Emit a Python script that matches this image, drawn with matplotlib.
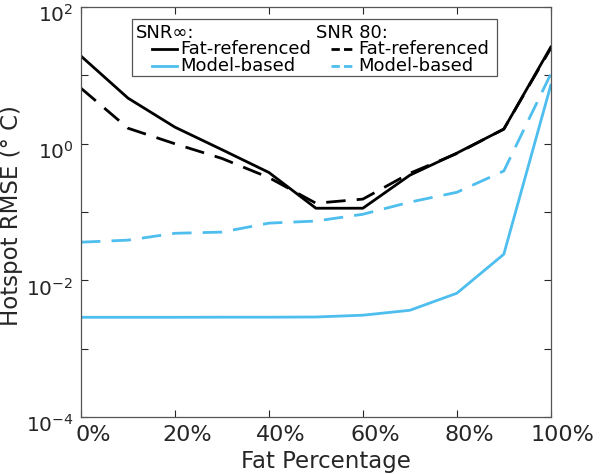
import numpy as np
import matplotlib.pyplot as plt
from matplotlib.patches import Rectangle
from matplotlib.lines import Line2D
from matplotlib.transforms import ScaledTranslation

# fat percentage (%)
fat_pct = [0, 10, 20, 30, 40, 50, 60, 70, 80, 90, 100]

# hotspot RMSE (deg C)
fatref_inf = [19.2, 4.66, 1.75, 0.82, 0.38, 0.114, 0.114, 0.347, 0.73, 1.64, 26.0]
model_inf = [0.00289, 0.00289, 0.00289, 0.0029, 0.0029, 0.00292, 0.0031, 0.00366, 0.0065, 0.0242, 7.2]
fatref_80 = [6.5, 1.69, 1.0, 0.61, 0.32, 0.135, 0.155, 0.37, 0.72, 1.64, 25.0]
model_80 = [0.0363, 0.0389, 0.049, 0.051, 0.069, 0.074, 0.093, 0.14, 0.195, 0.40, 10.5]

ytick_vals = [1e-4, 1e-3, 1e-2, 1e-1, 1e0, 1e1, 1e2]
ytick_labels = ['$10^{-4}$', '', '$10^{-2}$', '', '$10^{0}$', '', '$10^{2}$']
xtick_vals = [0, 20, 40, 60, 80, 100]
xtick_labels = ['0%', '20%', '40%', '60%', '80%', '100%']

blue = '#4DBEEE'
txtc = '#262626'
dash = (0, (7, 4))

fig = plt.figure(figsize=(6, 4.74), dpi=100)
ax = fig.add_axes([0.135, 0.120, 0.783, 0.865])

ax.plot(fat_pct, fatref_inf, color='black', lw=2)
ax.plot(fat_pct, model_inf, color=blue, lw=2)
ax.plot(fat_pct, fatref_80, color='black', lw=2, linestyle=dash)
ax.plot(fat_pct, model_80, color=blue, lw=2, linestyle=dash)

ax.set_yscale('log')
ax.set_ylim(1e-4, 1e2)
ax.set_xlim(0, 100)
ax.set_yticks(ytick_vals)
ax.set_yticklabels(ytick_labels)
ax.yaxis.set_minor_locator(plt.NullLocator())
ax.set_xticks(xtick_vals)
ax.set_xticklabels(xtick_labels)
ax.tick_params(direction='in', length=5, width=0.8, colors=txtc,
               top=True, right=True)
ax.tick_params(axis='x', labelsize=16, pad=6)
ax.tick_params(axis='y', labelsize=14.5, pad=5.5)
for sp in ax.spines.values():
    sp.set_color('#555555')
    sp.set_linewidth(0.9)

# labels in the reference sit a little off-centre from their ticks
xoff = ScaledTranslation(12 / 100, 0, fig.dpi_scale_trans)
for lab in ax.get_xticklabels():
    lab.set_transform(lab.get_transform() + xoff)
yoff = ScaledTranslation(0, -6 / 100, fig.dpi_scale_trans)
for lab in ax.get_yticklabels():
    lab.set_transform(lab.get_transform() + yoff)

ax.set_xlabel('Fat Percentage', fontsize=16.5, color=txtc)
ax.set_ylabel('Hotspot RMSE (° C)', fontsize=16.5, color=txtc)
ax.xaxis.set_label_coords(0.521, -0.08)
ax.yaxis.set_label_coords(-0.124, 0.491)

# hand-built legend with group headers
tr = ax.transAxes
ax.add_patch(Rectangle((0.109, 0.832), 0.776, 0.139, transform=tr,
                       facecolor='white', edgecolor='#555555', lw=0.9, zorder=5))
fs = 13
ax.text(0.117, 0.938, 'SNR∞:', transform=tr, fontsize=fs, va='center', zorder=6)
ax.text(0.500, 0.938, 'SNR 80:', transform=tr, fontsize=fs, va='center', zorder=6)
rows = [(0.898, 'black', 'Fat-referenced'), (0.857, blue, 'Model-based')]
for y, c, label in rows:
    ax.add_line(Line2D([0.151, 0.204], [y, y], transform=tr, color=c, lw=2, zorder=6))
    ax.text(0.211, y, label, transform=tr, fontsize=fs, va='center', zorder=6)
    ax.add_line(Line2D([0.532, 0.585], [y, y], transform=tr, color=c, lw=2,
                       linestyle=(0, (3, 1.5)), zorder=6))
    ax.text(0.591, y, label, transform=tr, fontsize=fs, va='center', zorder=6)

fig.savefig('out.png', dpi=100)
